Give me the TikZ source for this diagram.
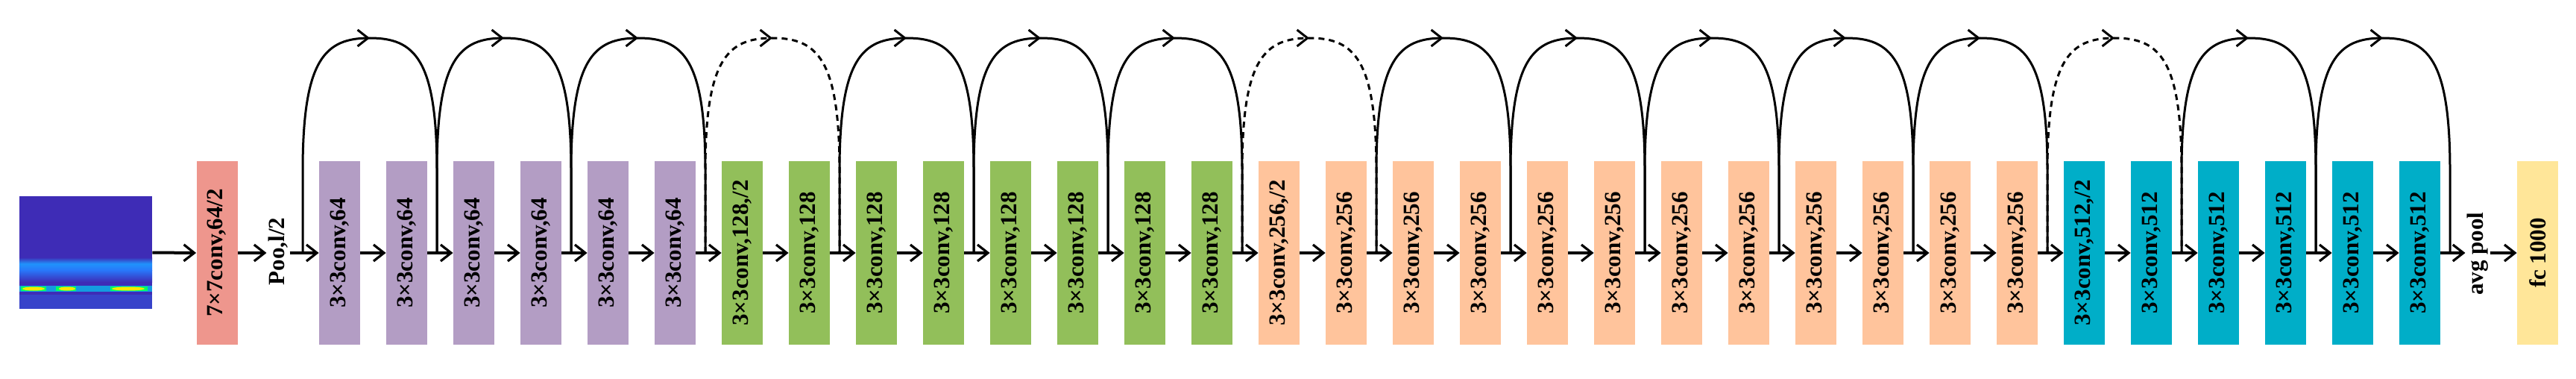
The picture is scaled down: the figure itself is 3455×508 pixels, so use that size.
\documentclass[tikz,border=0pt]{standalone}
\usepackage{fontspec}
\setmainfont{Liberation Serif}
\usetikzlibrary{arrows.meta,decorations.markings,calc}
\definecolor{cpur}{RGB}{179,157,196}
\definecolor{cgre}{RGB}{146,191,90}
\definecolor{cora}{RGB}{255,196,156}
\definecolor{cblu}{RGB}{0,174,200}
\definecolor{cred}{RGB}{238,150,141}
\definecolor{cyel}{RGB}{255,230,153}
\definecolor{sdark}{RGB}{62,44,182}
\definecolor{slight}{RGB}{40,120,250}
\tikzset{
  blk/.style={draw=none,fill=#1,minimum width=27.5pt,minimum height=123pt,inner sep=0pt,
    font=\fontsize{15.5}{18}\selectfont\bfseries},
  lbl/.style={inner sep=1pt,font=\fontsize{15.5}{18}\selectfont\bfseries},
  flow/.style={line width=2pt,-{Straight Barb[length=7pt,width=11pt,line width=1.6pt]}},
  skip/.style={line width=1.5pt,postaction={decorate},decoration={markings,
    mark=at position 0.5 with {\arrow[solid]{Straight Barb[length=7pt,width=11pt,line width=1.5pt]}}}},
  dsh/.style={dash pattern=on 4pt off 3pt}
}
\begin{document}
\begin{tikzpicture}[x=0.5pt,y=-0.5pt]
\useasboundingbox (0,0) rectangle (3455,508);
% spectrogram
\node[minimum width=89pt,minimum height=75.5pt,inner sep=0pt,fill=sdark] (img) at (115,338.5) {};
\begin{scope}
\clip (26,263) rectangle (204,414);
\shade[top color=sdark,bottom color=slight,middle color=slight!80!cyan] (26,345) rectangle (204,362);
\shade[top color=slight,bottom color=sdark] (26,362) rectangle (204,378);
\fill[sdark!70!slight] (26,395) rectangle (204,414);
\fill[cyan!70!slight] (26,383) rectangle (204,391);
\fill[green!60!cyan] (28,384) rectangle (62,390);
\fill[green!60!cyan] (75,384) rectangle (102,390);
\fill[green!60!cyan] (148,384) rectangle (198,390);
\fill[yellow!90!orange] (45,387) ellipse (15 and 2.5);
\fill[yellow!90!orange] (90,387) ellipse (11 and 2.5);
\fill[yellow!90!orange] (172,387) ellipse (22 and 2.5);
\end{scope}
\node[blk=cred] (red) at (291,339) {\rotatebox{90}{7×7conv,64/2}};
\node[lbl] (pool) at (373,337) {\rotatebox{90}{Poo,l/2}};
\draw[flow] (img.east) -- (red.west);
\draw[flow] (red.east) -- (pool.west |- red.east);
\foreach \i in {0,...,31}{
  \pgfmathsetmacro\cx{455.5+90*\i}
  \ifnum\i<6 \def\col{cpur}\def\txt{3×3conv,64}\else
  \ifnum\i<14 \def\col{cgre}\def\txt{3×3conv,128}\else
  \ifnum\i<26 \def\col{cora}\def\txt{3×3conv,256}\else
  \def\col{cblu}\def\txt{3×3conv,512}\fi\fi\fi
  \ifnum\i=6 \def\txt{3×3conv,128,/2}\fi
  \ifnum\i=14 \def\txt{3×3conv,256,/2}\fi
  \ifnum\i=26 \def\txt{3×3conv,512,/2}\fi
  \node[blk=\col] (b\i) at (\cx,339) {\rotatebox{90}{\txt}};
}
\node[lbl] (avg) at (3323,340) {\rotatebox{90}{avg pool}};
\node[blk=cyel] (fc) at (3403.5,339) {\rotatebox{90}{fc 1000}};
\draw[flow] (pool.east |- b0.west) -- (b0.west);
\foreach \i [evaluate=\i as \j using int(\i+1)] in {0,...,30}{
  \draw[flow] (b\i.east) -- (b\j.west);
}
\draw[flow] (b31.east) -- (avg.west |- b31.east);
\draw[flow] (avg.east |- fc.west) -- (fc.west);
% skip coordinates
\foreach \k in {0,...,16}{
  \pgfmathsetmacro\sx{455.5+180*\k-27.5-22}
  \coordinate (s\k) at (\sx,339);
}
\foreach \k [evaluate=\k as \n using int(\k+1)] in {0,...,15}{
  \ifnum\k=3 \def\st{dsh}\else\ifnum\k=7 \def\st{dsh}\else\ifnum\k=13 \def\st{dsh}\else\def\st{solid}\fi\fi\fi
  \draw[skip,\st] (s\k) -- ([yshift=55pt]s\k) .. controls ([yshift=130pt]s\k) and ([xshift=15pt,yshift=144pt]s\k) .. ($(s\k)!0.5!(s\n)+(0,-288)$)
     .. controls ([xshift=-15pt,yshift=144pt]s\n) and ([yshift=130pt]s\n) .. ([yshift=55pt]s\n) -- (s\n);
}
\end{tikzpicture}
\end{document}
